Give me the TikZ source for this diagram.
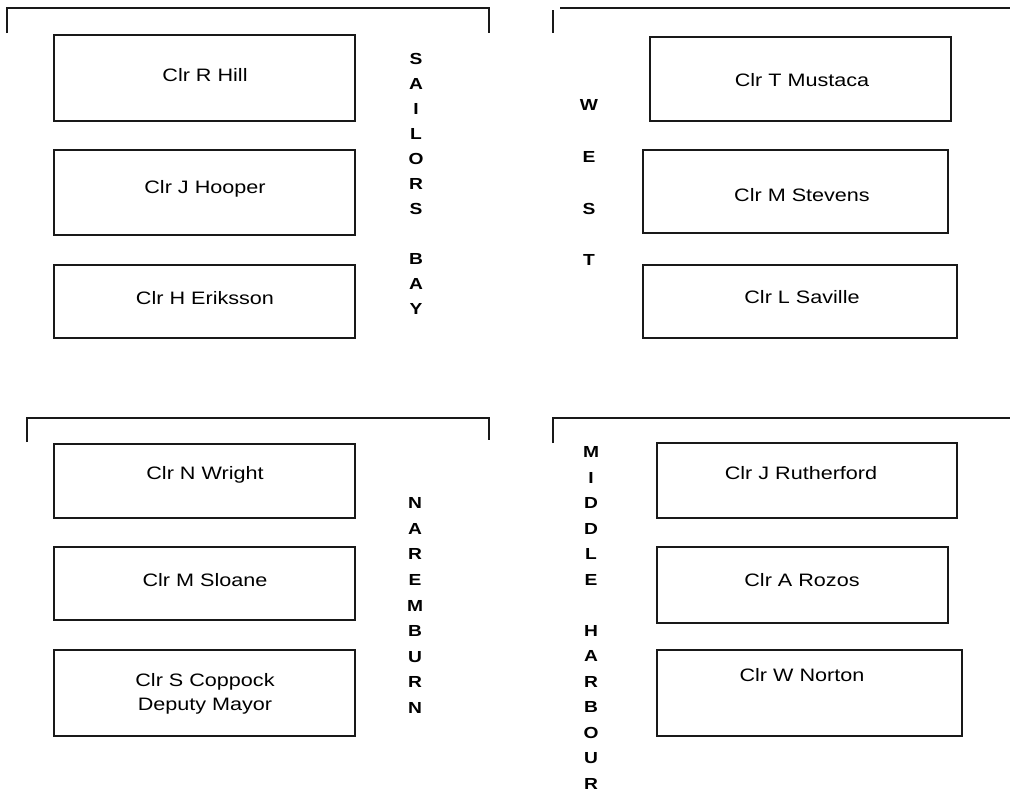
\documentclass[tikz,border=0pt]{standalone}
\usepackage{fontspec}
\setmainfont{Liberation Sans}
\newfontfamily\boxfont[FakeStretch=1.2]{Liberation Sans}
\begin{document}
\begin{tikzpicture}[x=1pt,y=1pt,
  box/.style={draw=black!90, line width=1.7pt, inner sep=0pt},
  txt/.style={font=\boxfont\fontsize{18}{24}\selectfont, inner sep=0pt, text height=12.9pt, text depth=0pt},
  txt2/.style={font=\boxfont\fontsize{18}{24}\selectfont, inner sep=0pt, align=center},
  vl/.style={font=\boxfont\bfseries\fontsize{16}{18}\selectfont, inner sep=0pt, text height=11.5pt, text depth=0pt},
  brk/.style={draw=black!90, line width=1.4pt}]
\useasboundingbox (0,0) rectangle (1010,-793);
\newcommand\cbox[5]{\node[box, minimum width={(#4-#2)*1pt}, minimum height={(#5-#3)*1pt}] (#1) at ({(#2+#4)/2},{-(#3+#5)/2}) {};}
% brackets
\draw[brk] (7,-33) -- (7,-8) -- (489,-8) -- (489,-33);
\draw[brk] (553,-10) -- (553,-33);
\draw[brk] (560,-8) -- (1010,-8);
\draw[brk] (27,-442) -- (27,-418) -- (489,-418) -- (489,-440);
\draw[brk] (553,-443) -- (553,-418) -- (1010,-418);
% boxes
\cbox{hill}{54}{35}{355}{121}
\cbox{hooper}{54}{150}{355}{235}
\cbox{eriksson}{54}{265}{355}{338}
\cbox{mustaca}{650}{37}{951}{121}
\cbox{stevens}{643}{150}{948}{233}
\cbox{saville}{643}{265}{957}{338}
\cbox{wright}{54}{444}{355}{518}
\cbox{sloane}{54}{547}{355}{620}
\cbox{coppock}{54}{650}{355}{736}
\cbox{rutherford}{657}{443}{957}{518}
\cbox{rozos}{657}{547}{948}{623}
\cbox{norton}{657}{650}{962}{736}
% texts
\node[txt] (hill-t) at (205,-75) {Clr R Hill};
\node[txt] (hooper-t) at (205,-187) {Clr J Hooper};
\node[txt] (eriksson-t) at (205,-298) {Clr H Eriksson};
\node[txt] (mustaca-t) at (802,-80) {Clr T Mustaca};
\node[txt] (stevens-t) at (802,-195) {Clr M Stevens};
\node[txt] (saville-t) at (802,-297) {Clr L Saville};
\node[txt] (wright-t) at (205,-473) {Clr N Wright};
\node[txt] (sloane-t) at (205,-580) {Clr M Sloane};
\node[txt2] (coppock-t) at (205,-694) {Clr S Coppock\\Deputy Mayor};
\node[txt] (rutherford-t) at (801,-473) {Clr J Rutherford};
\node[txt] (rozos-t) at (802,-580) {Clr A Rozos};
\node[txt] (norton-t) at (802,-675) {Clr W Norton};
% vertical ward names
\foreach \l/\k [count=\i] in {S/0,A/1,I/2,L/3,O/4,R/5,S/6,B/8,A/9,Y/10}
  \node[vl] (sb\i) at (416,{-(59+\k*25)}) {\l};
\foreach \l/\k [count=\i] in {W/0,E/1,S/2,T/3}
  \node[vl] (we\i) at (589,{-(105+\k*51.7)}) {\l};
\foreach \l/\k [count=\i] in {N/0,A/1,R/2,E/3,M/4,B/5,U/6,R/7,N/8}
  \node[vl] (na\i) at (415,{-(503+\k*25.6)}) {\l};
\foreach \l/\k [count=\i] in {M/0,I/1,D/2,D/3,L/4,E/5,H/7,A/8,R/9,B/10,O/11,U/12,R/13}
  \node[vl] (mh\i) at (591,{-(452+\k*25.5)}) {\l};
\end{tikzpicture}
\end{document}
